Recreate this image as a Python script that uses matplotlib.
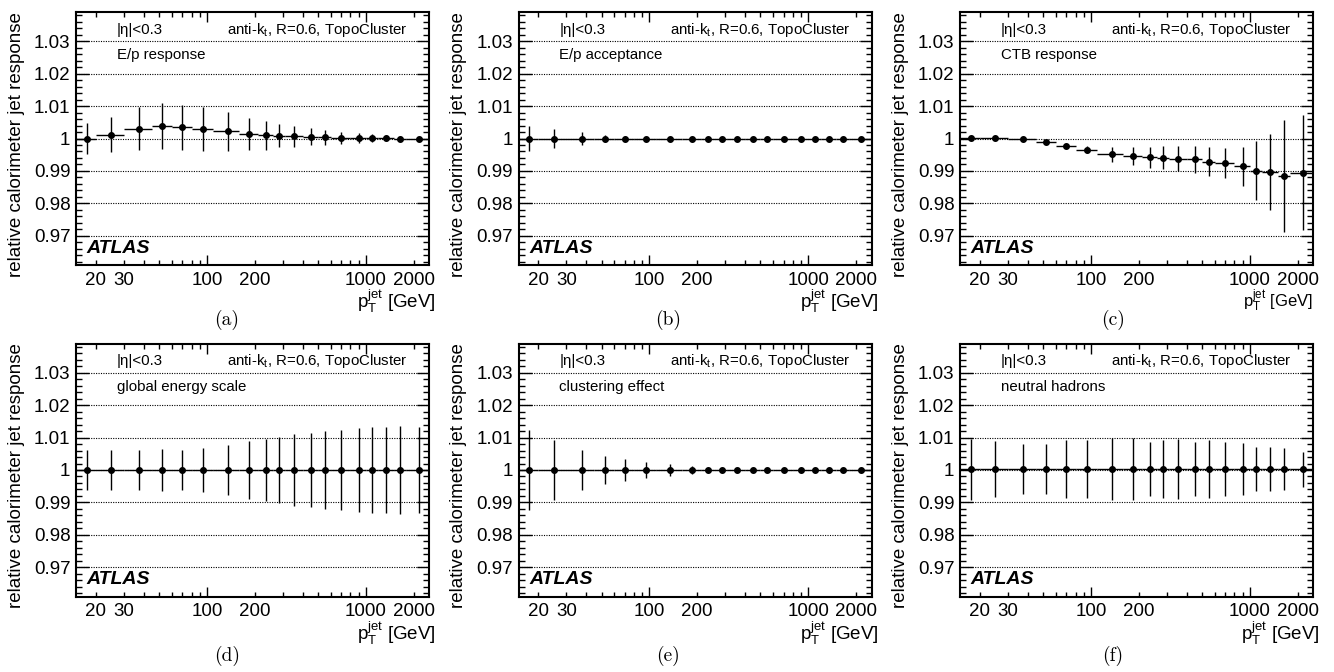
import numpy as np
import matplotlib
matplotlib.use("Agg")
import matplotlib.pyplot as plt
from matplotlib.ticker import FixedLocator, FuncFormatter, MultipleLocator

plt.rcParams['font.family'] = ['Liberation Sans', 'DejaVu Sans']
plt.rcParams['mathtext.fontset'] = 'custom'
plt.rcParams['mathtext.rm'] = 'Liberation Sans'
plt.rcParams['mathtext.it'] = 'Liberation Sans:italic'
plt.rcParams['mathtext.bf'] = 'Liberation Sans:bold'

# ---- data ----
pt_edges = [15, 20, 30, 45, 60, 80, 110, 160, 210, 260, 310, 400, 500, 600,
            800, 1000, 1200, 1500, 1800, 2500]

resp_a = [1.0000, 1.0012, 1.0030, 1.0039, 1.0034, 1.0029, 1.0022, 1.0014, 1.0010, 1.0009,
          1.0007, 1.0005, 1.0004, 1.0002, 1.0002, 1.0001, 1.0001, 1.0000, 1.0000]
err_a = [0.0049, 0.0055, 0.0066, 0.0070, 0.0070, 0.0069, 0.0059, 0.0049, 0.0045, 0.0036,
         0.0032, 0.0026, 0.0023, 0.0019, 0.0015, 0.0012, 0.0009, 0.0007, 0.0006]

resp_b = [1.0000, 1.0000, 1.0000, 1.0000, 1.0000, 1.0000, 1.0000, 1.0000, 1.0000, 1.0000,
          1.0000, 1.0000, 1.0000, 1.0000, 1.0000, 1.0000, 1.0000, 1.0000, 1.0000]
err_b = [0.0038, 0.0029, 0.0021, 0.0012, 0.0009, 0.0006, 0.0003, 0.0002, 0.0002, 0.0002,
         0.0002, 0.0002, 0.0002, 0.0002, 0.0002, 0.0002, 0.0002, 0.0002, 0.0002]

resp_c = [1.0001, 1.0001, 0.9997, 0.9989, 0.9978, 0.9966, 0.9952, 0.9946, 0.9942, 0.9941,
          0.9938, 0.9936, 0.9929, 0.9924, 0.9914, 0.9901, 0.9897, 0.9884, 0.9895]
err_c = [0.0003, 0.0003, 0.0003, 0.0004, 0.0006, 0.0012, 0.0023, 0.0029, 0.0032, 0.0036,
         0.0039, 0.0041, 0.0044, 0.0047, 0.0059, 0.0091, 0.0118, 0.0173, 0.0177]

resp_d = [1.0000, 1.0000, 1.0000, 1.0000, 1.0000, 1.0000, 1.0000, 1.0000, 1.0000, 1.0000,
          1.0000, 1.0000, 1.0000, 1.0000, 1.0000, 1.0000, 1.0000, 1.0000, 1.0000]
err_d = [0.0061, 0.0061, 0.0061, 0.0065, 0.0063, 0.0069, 0.0078, 0.0089, 0.0095, 0.0102,
         0.0110, 0.0115, 0.0121, 0.0124, 0.0130, 0.0133, 0.0133, 0.0137, 0.0133]

resp_e = [1.0000, 1.0000, 1.0000, 1.0000, 1.0000, 1.0000, 1.0000, 1.0000, 1.0000, 1.0000,
          1.0000, 1.0000, 1.0000, 1.0000, 1.0000, 1.0000, 1.0000, 1.0000, 1.0000]
err_e = [0.0124, 0.0093, 0.0063, 0.0042, 0.0034, 0.0026, 0.0018, 0.0012, 0.0007, 0.0005,
         0.0003, 0.0003, 0.0003, 0.0003, 0.0003, 0.0003, 0.0003, 0.0003, 0.0003]

resp_f = [1.0003, 1.0003, 1.0003, 1.0003, 1.0003, 1.0003, 1.0003, 1.0003, 1.0003, 1.0003,
          1.0003, 1.0003, 1.0003, 1.0003, 1.0003, 1.0003, 1.0003, 1.0003, 1.0003]
err_f = [0.0094, 0.0087, 0.0077, 0.0077, 0.0088, 0.0088, 0.0097, 0.0096, 0.0084, 0.0088,
         0.0093, 0.0082, 0.0088, 0.0083, 0.0079, 0.0068, 0.0068, 0.0064, 0.0054]

labels = ["E/p response", "E/p acceptance", "CTB response",
          "global energy scale", "clustering effect", "neutral hadrons"]
captions = ["(a)", "(b)", "(c)", "(d)", "(e)", "(f)"]
series = [(resp_a, err_a), (resp_b, err_b), (resp_c, err_c),
          (resp_d, err_d), (resp_e, err_e), (resp_f, err_f)]

xtick_major = [100, 1000]
xtick_minor = [20, 30, 40, 50, 60, 70, 80, 90, 200, 300, 400, 500, 600, 700, 800, 900, 2000]
xtick_labeled = [20, 30, 100, 200, 1000, 2000]

# ---- figure ----
W, H = 1334, 672
fig = plt.figure(figsize=(W / 100, H / 100), dpi=100)

col_left = [76, 518.5, 960]
row_top = [12, 343.5]
ax_w, ax_h = 353, 253
cap_x = [227, 668, 1113]
cap_y = [320, 656]

edges = np.array(pt_edges, dtype=float)
centers = 0.5 * (edges[:-1] + edges[1:])
xlo = centers - edges[:-1]
xhi = edges[1:] - centers

for i in range(6):
    r, c = divmod(i, 3)
    l = col_left[c]
    t = row_top[r]
    ax = fig.add_axes([l / W, 1 - (t + ax_h) / H, ax_w / W, ax_h / H])
    y, e = series[i]
    ax.set_xscale('log')
    ax.set_xlim(15, 2500)
    ax.set_ylim(0.961, 1.039)
    ax.errorbar(centers, y, yerr=e, xerr=[xlo, xhi], fmt='o', color='black',
                ms=4.0, elinewidth=1.0, capsize=0, zorder=3)
    # grid
    for gy in [0.97, 0.98, 0.99, 1.0, 1.01, 1.02, 1.03]:
        ax.axhline(gy, color='black', lw=0.8, ls=(0, (1, 1.2)), zorder=1)
    # ticks
    ax.xaxis.set_major_locator(FixedLocator(xtick_major))
    ax.xaxis.set_minor_locator(FixedLocator(xtick_minor))
    fmt = FuncFormatter(lambda v, p: ("%d" % round(v)) if round(v) in xtick_labeled else "")
    ax.xaxis.set_major_formatter(fmt)
    ax.xaxis.set_minor_formatter(fmt)
    ax.yaxis.set_major_locator(MultipleLocator(0.01))
    ax.yaxis.set_minor_locator(MultipleLocator(0.002))
    ax.yaxis.set_major_formatter(FuncFormatter(lambda v, p: "%g" % round(v, 3)))
    ax.tick_params(which='both', direction='in', top=True, right=True,
                   labelsize=13.5, width=1.0, colors='black')
    ax.tick_params(axis='y', which='major', length=9, pad=4)
    ax.tick_params(axis='y', which='minor', length=4.5)
    ax.tick_params(axis='x', which='major', length=7, pad=5)
    ax.tick_params(axis='x', which='minor', length=3.5, pad=5)
    for sp in ax.spines.values():
        sp.set_linewidth(1.5)
    # labels
    ax.set_ylabel("relative calorimeter jet response", fontsize=13.5, loc='top')
    ax.yaxis.set_label_coords(-0.145, 1.0)
    xs = 12 if i == 2 else 13.5
    ax.set_xlabel(r"p$_{\mathrm{T}}^{\mathrm{jet}}$ [GeV]", fontsize=xs, loc='right')
    ax.xaxis.set_label_coords(1.0 if i == 2 else 1.02, -0.09)
    # annotations
    ax.text(0.116, 0.929, "|η|<0.3", transform=ax.transAxes, fontsize=10.8,
            ha='left', va='center')
    ax.text(0.94, 0.929, r"anti-k$_{\mathrm{t}}$, R=0.6, TopoCluster",
            transform=ax.transAxes, fontsize=10.8, ha='right', va='center')
    ax.text(0.116, 0.83, labels[i], transform=ax.transAxes, fontsize=10.8,
            ha='left', va='center')
    ax.text(0.03, 0.066, "ATLAS", transform=ax.transAxes, fontsize=14,
            fontweight='bold', fontstyle='italic', ha='left', va='center')
    fig.text(cap_x[c] / W, 1 - cap_y[r] / H, captions[i], fontsize=14,
             family='cmr10', ha='center', va='center')

fig.savefig("out.png", dpi=100)
